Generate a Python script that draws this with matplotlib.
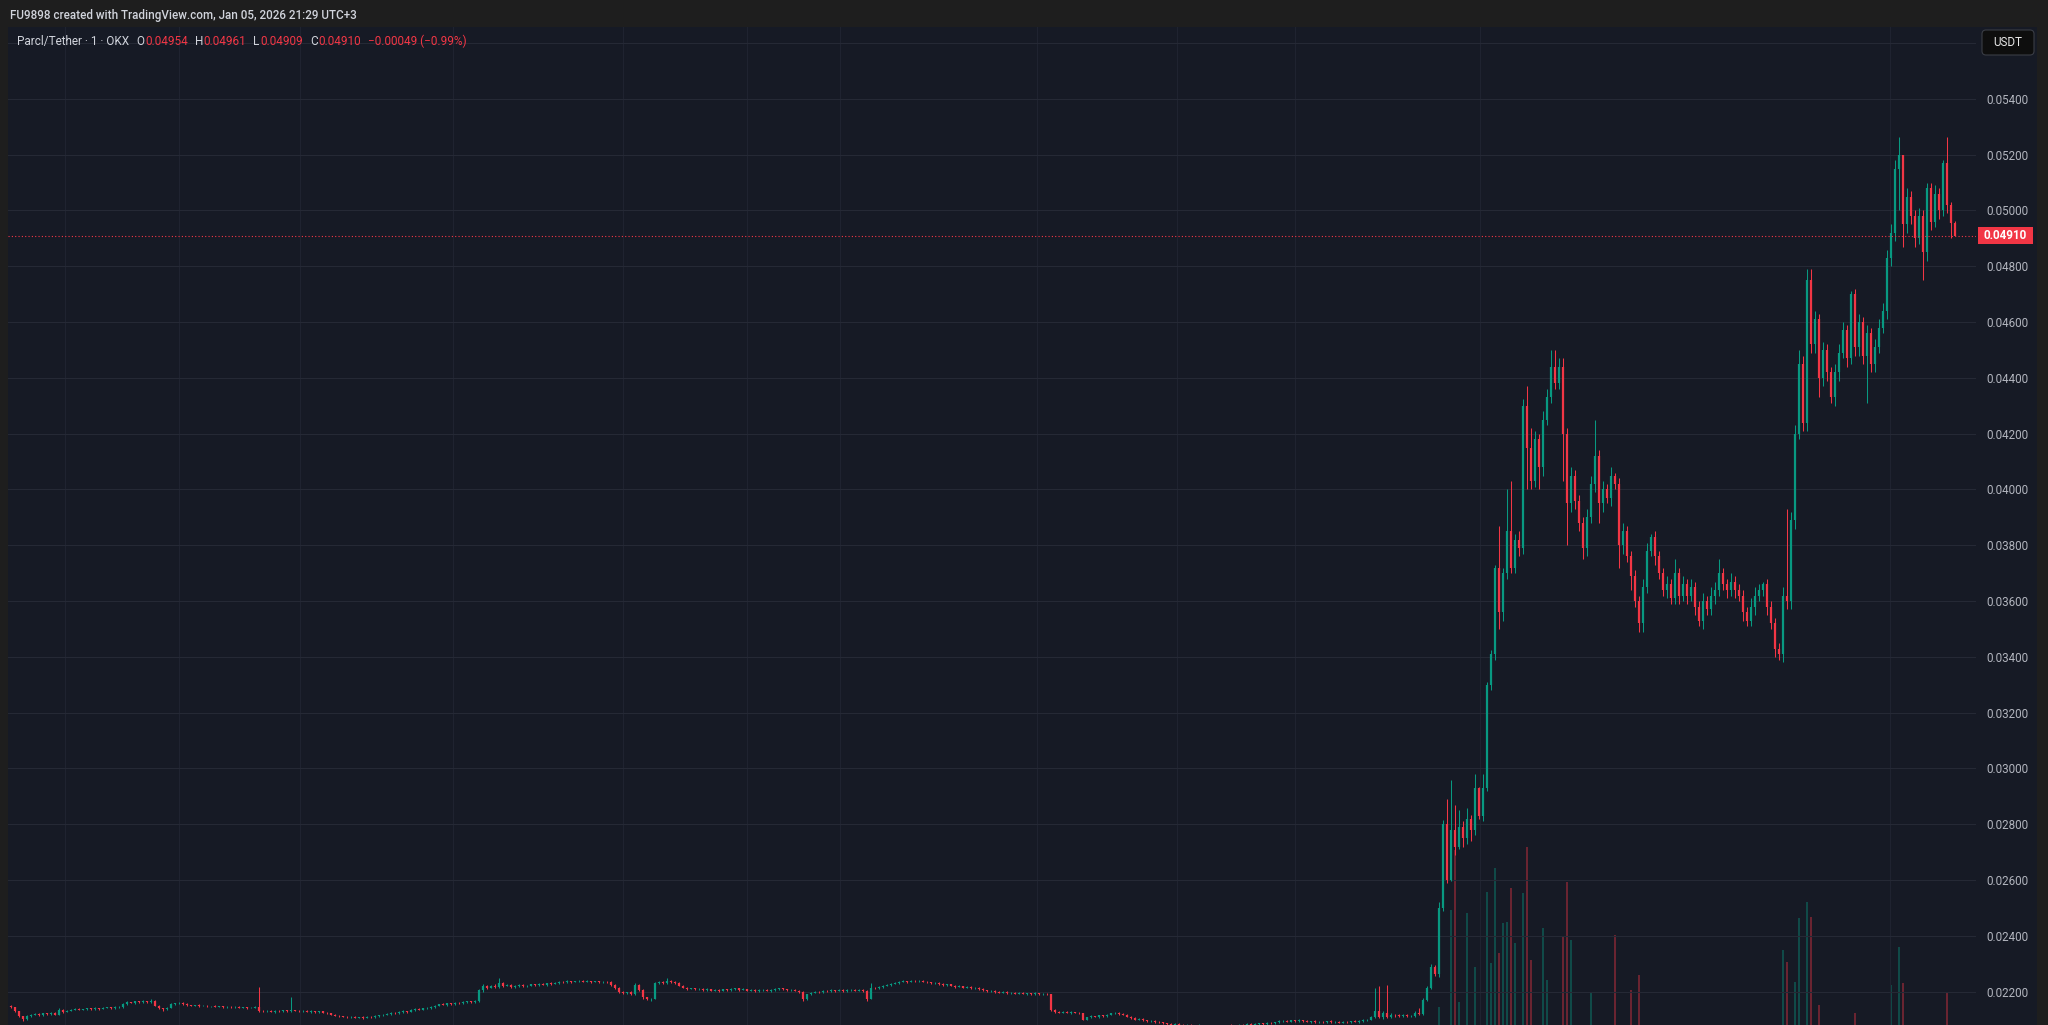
import matplotlib
matplotlib.use("Agg")
import matplotlib.pyplot as plt
import numpy as np
from matplotlib.patches import Rectangle, FancyBboxPatch
from matplotlib.transforms import blended_transform_factory, IdentityTransform

plt.rcParams['font.family'] = ['Roboto', 'DejaVu Sans']

# 1 minute candles, prices in units of 0.00001 USDT (open = previous close)
first_open = 2150
closes = [
    2144, 2130, 2112, 2101, 2112, 2118, 2120, 2116, 2122, 2119, 2124, 2118, 2135, 2128, 2132, 2136, 2138, 2135, 2137, 2140,
    2138, 2141, 2139, 2142, 2144, 2141, 2145, 2146, 2156, 2162, 2160, 2165, 2163, 2166, 2162, 2168, 2150, 2140, 2138, 2142,
    2155, 2158, 2160, 2156, 2152, 2150, 2152, 2149, 2150, 2147, 2148, 2146, 2147, 2145, 2146, 2144, 2145, 2143, 2144, 2142,
    2143, 2146, 2132, 2130, 2132, 2128, 2131, 2129, 2133, 2130, 2134, 2131, 2129, 2132, 2128, 2130, 2127, 2129, 2125, 2122,
    2118, 2114, 2112, 2110, 2108, 2111, 2107, 2109, 2106, 2110, 2108, 2112, 2115, 2118, 2120, 2124, 2122, 2126, 2130, 2128,
    2134, 2138, 2136, 2140, 2142, 2145, 2150, 2155, 2153, 2158, 2156, 2160, 2158, 2162, 2165, 2163, 2168, 2205, 2220, 2215,
    2222, 2218, 2230, 2222, 2225, 2218, 2220, 2224, 2219, 2221, 2226, 2223, 2228, 2225, 2230, 2228, 2232, 2236, 2234, 2238,
    2235, 2237, 2240, 2236, 2238, 2235, 2237, 2233, 2236, 2234, 2225, 2215, 2200, 2195, 2198, 2192, 2225, 2205, 2180, 2172,
    2175, 2230, 2236, 2232, 2240, 2235, 2230, 2222, 2215, 2210, 2212, 2208, 2211, 2206, 2209, 2204, 2207, 2203, 2208, 2205,
    2210, 2212, 2207, 2209, 2204, 2206, 2202, 2205, 2207, 2203, 2206, 2209, 2212, 2208, 2205, 2207, 2203, 2200, 2172, 2190,
    2196, 2200, 2198, 2203, 2201, 2205, 2203, 2206, 2202, 2205, 2207, 2204, 2206, 2203, 2175, 2215, 2212, 2218, 2222, 2225,
    2228, 2232, 2236, 2238, 2235, 2240, 2237, 2239, 2236, 2234, 2230, 2232, 2227, 2224, 2226, 2222, 2218, 2220, 2215, 2217,
    2212, 2214, 2210, 2205, 2202, 2204, 2200, 2197, 2199, 2195, 2197, 2193, 2196, 2192, 2194, 2190, 2195, 2191, 2193, 2190,
    2135, 2128, 2125, 2127, 2124, 2126, 2125, 2122, 2100, 2108, 2112, 2110, 2115, 2112, 2118, 2122, 2125, 2120, 2118, 2110,
    2106, 2100, 2102, 2098, 2094, 2096, 2092, 2090, 2086, 2084, 2082, 2085, 2080, 2078, 2082, 2079, 2076, 2080, 2078, 2075,
    2079, 2077, 2074, 2078, 2080, 2077, 2079, 2082, 2080, 2084, 2081, 2083, 2086, 2084, 2088, 2086, 2090, 2094, 2096, 2093,
    2097, 2095, 2098, 2095, 2092, 2094, 2090, 2093, 2091, 2094, 2090, 2092, 2089, 2093, 2091, 2094, 2092, 2096, 2098, 2100,
    2110, 2130, 2108, 2125, 2110, 2118, 2115, 2112, 2116, 2113, 2114, 2125, 2120, 2170, 2215, 2290, 2262, 2500, 2800, 2600,
    2780, 2720, 2790, 2750, 2820, 2780, 2930, 2830, 2930, 3300, 3410, 3720, 3560, 3700, 3850, 3720, 3820, 3790, 4300, 4150,
    4030, 4180, 4080, 4250, 4330, 4440, 4380, 4440, 4200, 3950, 4050, 3960, 3880, 3790, 3900, 4020, 4120, 3950, 4000, 3970,
    4050, 4020, 3800, 3850, 3760, 3690, 3600, 3520, 3650, 3780, 3830, 3760, 3700, 3640, 3660, 3610, 3700, 3620, 3660, 3620,
    3650, 3580, 3530, 3600, 3570, 3620, 3640, 3700, 3660, 3640, 3670, 3640, 3620, 3560, 3530, 3580, 3620, 3640, 3660, 3580,
    3520, 3430, 3410, 3620, 3600, 3890, 4200, 4450, 4240, 4750, 4520, 4610, 4400, 4500, 4420, 4330, 4420, 4490, 4570, 4470,
    4700, 4510, 4600, 4480, 4560, 4450, 4510, 4580, 4640, 4830, 4920, 5150, 5200, 4950, 5050, 4980, 4900, 4980, 4850, 5080,
    4960, 5060, 5000, 5170, 5020, 4954, 4910,
]
# wick lengths above / below the body, same units
wick_up = [
    3, 2, 2, 1, 3, 2, 4, 2, 3, 2, 4, 3, 8, 2, 3, 2, 3, 2, 2, 3,
    2, 3, 2, 3, 2, 2, 3, 2, 3, 4, 2, 3, 2, 3, 2, 4, 2, 2, 2, 3,
    3, 2, 3, 2, 2, 2, 2, 3, 2, 2, 2, 3, 2, 2, 3, 2, 2, 3, 2, 2,
    2, 3, 71, 2, 3, 2, 2, 3, 2, 2, 46, 2, 3, 2, 2, 3, 2, 2, 3, 2,
    2, 2, 3, 2, 2, 3, 2, 2, 3, 2, 2, 3, 2, 3, 2, 3, 2, 3, 3, 2,
    3, 2, 3, 2, 3, 3, 3, 2, 3, 2, 3, 2, 3, 3, 2, 3, 3, 5, 6, 4,
    3, 4, 20, 3, 3, 4, 3, 3, 2, 3, 3, 2, 3, 3, 2, 3, 3, 3, 2, 3,
    2, 3, 3, 2, 3, 2, 3, 2, 3, 2, 3, 3, 2, 3, 2, 3, 7, 3, 3, 2,
    3, 5, 3, 3, 10, 3, 3, 3, 3, 2, 3, 2, 3, 2, 3, 2, 3, 2, 3, 2,
    3, 3, 2, 3, 2, 3, 2, 3, 2, 3, 2, 3, 3, 2, 3, 2, 3, 2, 3, 3,
    3, 3, 2, 3, 2, 3, 2, 3, 2, 3, 3, 2, 3, 2, 4, 17, 3, 3, 2, 3,
    3, 2, 3, 3, 2, 3, 3, 2, 3, 3, 2, 3, 2, 3, 2, 3, 2, 3, 2, 3,
    2, 3, 2, 3, 2, 3, 2, 3, 2, 3, 2, 3, 3, 2, 3, 2, 3, 2, 3, 2,
    0, 3, 2, 3, 2, 3, 2, 3, 3, 3, 3, 2, 3, 2, 3, 3, 3, 2, 3, 2,
    2, 3, 2, 3, 2, 3, 2, 3, 2, 3, 2, 3, 2, 3, 2, 3, 2, 3, 2, 3,
    2, 3, 2, 3, 2, 3, 2, 3, 2, 3, 2, 3, 2, 3, 2, 3, 3, 3, 3, 2,
    3, 2, 3, 2, 3, 2, 3, 2, 3, 2, 3, 2, 3, 2, 3, 2, 3, 3, 3, 3,
    4, 85, 90, 6, 100, 4, 3, 4, 3, 4, 3, 4, 15, 6, 5, 8, 6, 20, 15, 90,
    180, 90, 60, 20, 40, 15, 50, 5, 50, 10, 15, 10, 150, 20, 150, 180, 20, 30, 25, 70,
    70, 30, 20, 30, 30, 60, 60, 30, 30, 20, 30, 20, 20, 20, 30, 30, 130, 20, 30, 20,
    30, 10, 20, 30, 20, 20, 20, 20, 30, 30, 10, 20, 20, 20, 30, 20, 50, 20, 30, 20,
    30, 20, 20, 30, 20, 30, 30, 50, 20, 20, 30, 20, 20, 20, 20, 30, 30, 20, 10, 20,
    20, 20, 20, 30, 310, 30, 30, 50, 30, 40, 40, 30, 20, 30, 20, 20, 30, 30, 30, 20,
    10, 20, 30, 20, 30, 20, 30, 30, 30, 30, 30, 30, 65, 0, 30, 20, 20, 30, 20, 20,
    20, 30, 20, 10, 95, 10, 7,
]
wick_dn = [
    2, 3, 3, 5, 2, 3, 2, 3, 2, 3, 2, 3, 2, 3, 2, 2, 3, 2, 2, 3,
    2, 2, 3, 2, 2, 3, 2, 2, 3, 2, 2, 3, 2, 2, 3, 2, 3, 2, 6, 3,
    2, 3, 2, 2, 3, 2, 2, 3, 2, 2, 3, 2, 2, 3, 2, 2, 3, 2, 2, 3,
    2, 2, 5, 3, 2, 2, 3, 2, 2, 3, 2, 2, 3, 2, 2, 3, 2, 2, 3, 3,
    3, 2, 3, 2, 3, 2, 3, 2, 3, 2, 3, 2, 2, 3, 2, 2, 3, 2, 2, 3,
    2, 2, 3, 2, 2, 3, 2, 3, 2, 3, 2, 3, 2, 2, 3, 2, 3, 4, 5, 4,
    3, 3, 3, 4, 3, 3, 4, 3, 3, 3, 2, 3, 3, 2, 3, 3, 2, 3, 3, 2,
    3, 2, 3, 3, 2, 3, 2, 3, 3, 2, 3, 4, 3, 4, 3, 4, 3, 4, 5, 3,
    7, 3, 4, 3, 3, 3, 3, 3, 3, 3, 2, 3, 2, 3, 2, 3, 2, 3, 2, 3,
    2, 3, 3, 2, 3, 2, 3, 2, 3, 2, 3, 2, 3, 3, 2, 3, 2, 3, 7, 3,
    3, 2, 3, 2, 3, 2, 3, 2, 3, 2, 2, 3, 2, 3, 7, 3, 2, 3, 3, 2,
    3, 2, 3, 2, 3, 2, 3, 3, 2, 3, 2, 3, 3, 2, 3, 2, 3, 2, 3, 2,
    3, 2, 3, 2, 3, 2, 3, 2, 3, 2, 3, 2, 3, 2, 3, 2, 3, 2, 3, 2,
    5, 3, 2, 3, 2, 3, 2, 3, 3, 3, 3, 2, 3, 2, 3, 2, 3, 2, 3, 2,
    3, 2, 3, 2, 3, 2, 3, 2, 3, 2, 3, 2, 3, 2, 3, 2, 3, 2, 3, 2,
    3, 2, 3, 2, 3, 2, 3, 2, 3, 2, 3, 2, 3, 2, 3, 2, 3, 3, 2, 3,
    2, 3, 2, 3, 2, 3, 2, 3, 2, 3, 2, 3, 2, 3, 2, 3, 2, 3, 3, 3,
    3, 5, 4, 5, 4, 3, 4, 3, 4, 3, 4, 3, 5, 5, 5, 5, 5, 10, 10, 10,
    5, 30, 10, 30, 20, 40, 20, 10, 20, 10, 20, 20, 60, 30, 20, 20, 20, 30, 20, 150,
    30, 20, 80, 30, 20, 20, 20, 20, 170, 150, 30, 30, 30, 40, 30, 20, 30, 70, 30, 20,
    30, 20, 80, 30, 20, 50, 20, 30, 30, 20, 20, 30, 20, 20, 30, 20, 20, 30, 20, 30,
    20, 30, 20, 30, 20, 20, 30, 20, 20, 30, 20, 30, 20, 30, 20, 20, 30, 20, 20, 30,
    20, 30, 20, 30, 30, 30, 30, 20, 30, 30, 30, 30, 70, 30, 30, 20, 30, 30, 20, 30,
    20, 30, 30, 30, 170, 30, 30, 20, 20, 30, 30, 30, 150, 80, 30, 30, 30, 20, 100, 30,
    30, 20, 30, 20, 30, 54, 1,
]
# volume (arbitrary units) is only readable from candle 357 on, earlier bars stay below the crop
vol_from = 357
volumes = [
    78, 40, 50, 175, 235, 83, 40, 172, 45, 118, 50, 50, 193, 122, 217, 132, 162, 163, 197, 142,
    60, 192, 238, 125, 55, 50, 157, 105, 50, 45, 50, 148, 203, 145, 55, 50, 45, 60, 93, 50,
    45, 55, 50, 50, 150, 55, 50, 45, 95, 50, 110,
    40, 35, 45, 30, 35, 40, 30, 35, 45, 30, 35, 40, 30, 35, 45, 30, 35, 40, 30, 35,
    45, 30, 35, 40, 30, 35, 45, 30, 35, 40, 30, 35, 45, 50, 55,
    135, 123, 50, 103, 167, 60, 183, 168, 60, 80,
    50, 45, 50, 40, 45, 50, 40, 45, 72, 50, 45, 40, 50, 45, 40, 50, 45,
    100, 60, 138, 102, 45, 40, 50, 45, 40, 50, 45, 40, 50, 45, 92, 40, 40,
]
price_ticks = [0.022, 0.024, 0.026, 0.028, 0.030, 0.032, 0.034, 0.036, 0.038,
               0.040, 0.042, 0.044, 0.046, 0.048, 0.050, 0.052, 0.054, 0.056]
tick_labels = ['0.02200', '0.02400', '0.02600', '0.02800', '0.03000', '0.03200',
               '0.03400', '0.03600', '0.03800', '0.04000', '0.04200', '0.04400',
               '0.04600', '0.04800', '0.05000', '0.05200', '0.05400', '']
last_price = 0.04910
header = "FU9898 created with TradingView.com, Jan 05, 2026 21:29 UTC+3"
legend_parts = [("Parcl/Tether · 1 · OKX", None), ("O", "0.04954"), ("H", "0.04961"),
                ("L", "0.04909"), ("C", "0.04910"), ("", "−0.00049 (−0.99%)")]

W, H = 2048, 1025
BG = '#1e1e1e'
PANEL = '#161a25'
GREEN = '#089981'
RED = '#f23645'
TXT = '#d1d4dc'
AXT = '#b2b5be'

fig = plt.figure(figsize=(W / 100, H / 100), dpi=100, facecolor=BG)
fig.add_artist(Rectangle((8 / W, 0), 2029 / W, 998 / H, transform=fig.transFigure,
                         fc=PANEL, ec='none', zorder=0))

ax = fig.add_axes([8 / W, 0, 1968 / W, 998 / H])
vax = ax.twinx()
ax.set_zorder(vax.get_zorder() + 1)
ax.set_facecolor('none')
vax.set_facecolor('none')
vax.axis('off')

c = np.array(closes) * 1e-5
o = np.r_[first_open * 1e-5, c[:-1]]
top = np.maximum(o, c)
bot = np.minimum(o, c)
hi = top + np.array(wick_up) * 1e-5
lo = bot - np.array(wick_dn) * 1e-5
x = np.arange(len(c))
cols = np.where(c >= o, GREEN, RED)

ax.vlines(x, lo, hi, colors=cols, lw=0.75, zorder=3)
ax.vlines(x, bot, top, colors=cols, lw=1.6, zorder=3)

vx = np.arange(vol_from, vol_from + len(volumes))
vax.vlines(vx, 0, volumes, colors=cols[vol_from:vol_from + len(volumes)], lw=1.1, alpha=0.5)
vax.set_ylim(60, 1058)

ax.set_xlim(-0.75, len(c) - 1 + 5.25)
vax.set_xlim(ax.get_xlim())
ax.set_ylim(0.020806, 0.056577)

# faint time grid (pixel columns of the screenshot converted to candle slots)
grid_px = [65, 179, 300, 453, 623, 747, 840, 1037, 1177, 1295, 1480, 1890]
ax.set_xticks([(p - 11) / 4 for p in grid_px])
ax.set_yticks(price_ticks)
ax.set_yticklabels(tick_labels)
ax.yaxis.tick_right()
ax.tick_params(axis='y', length=0, pad=7.2, labelcolor=AXT, labelsize=8.4)
ax.tick_params(axis='x', length=0, labelbottom=False)
ax.grid(axis='y', color='#252935', lw=0.8)
ax.grid(axis='x', color='#1f2330', lw=0.8)
for s in ax.spines.values():
    s.set_visible(False)

# last price line + label
ax.axhline(last_price, color=RED, lw=0.8, ls=(0, (1, 2)), zorder=4)
bt = blended_transform_factory(fig.transFigure, ax.transData)
hh = 17 / 55.8 * 0.002
ax.add_patch(Rectangle((1978 / W, last_price - hh / 2), 55 / W, hh, transform=bt,
                       fc=RED, ec='none', clip_on=False, zorder=5))
ax.text(2005.5 / W, last_price, "0.04910", transform=bt, ha='center', va='center',
        color='white', fontsize=8.4, fontweight='bold', clip_on=False, zorder=6)

# currency box
fig.add_artist(FancyBboxPatch((1982, H - 55), 52, 25, boxstyle='round,pad=0,rounding_size=4',
                              transform=IdentityTransform(), fc='#0e0e0e', ec='#3a3d45', lw=0.8))
fig.text(2008 / W, 1 - 42.5 / H, "USDT", ha='center', va='center', color='#e8e8e8', fontsize=8.4)

# header and legend
fig.text(9.6 / W, 1 - 15 / H, header, ha='left', va='center', color=TXT, fontsize=8.35,
         fontweight='medium')
renderer = fig.canvas.get_renderer()
xp = 17
for lab, val in legend_parts:
    if lab:
        t = fig.text(xp / W, 1 - 41.5 / H, lab, ha='left', va='center', color=TXT, fontsize=8.5)
        xp = t.get_window_extent(renderer).x1 + 0.5
    if val:
        t = fig.text(xp / W, 1 - 41.5 / H, val, ha='left', va='center', color=RED, fontsize=8.5)
        xp = t.get_window_extent(renderer).x1
    xp += 7

fig.savefig('out.png', dpi=100, facecolor=BG)
